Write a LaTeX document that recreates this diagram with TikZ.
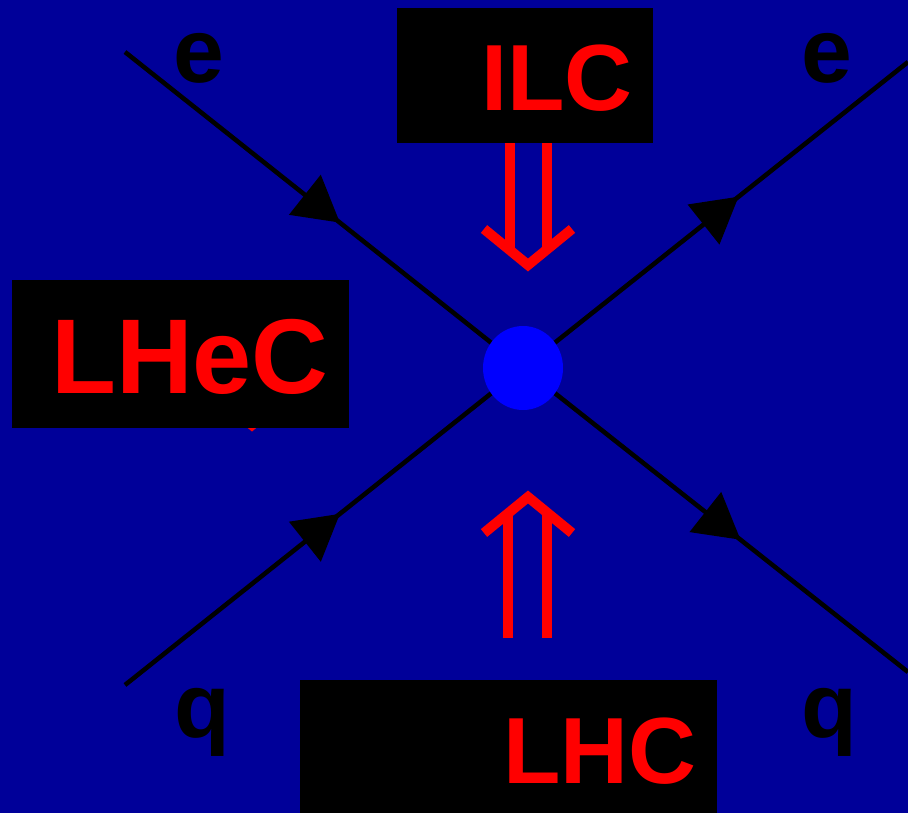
\documentclass[tikz,border=0pt]{standalone}
\usepackage{fontspec}
\setmainfont{Liberation Sans}
\usetikzlibrary{arrows.meta, decorations.markings, shapes.geometric}
\definecolor{navy}{RGB}{0,0,153}
\tikzstyle{box} = [
    rectangle,
    fill=black,
    inner sep=0pt
]
\tikzstyle{collider} = [
    text=red,
    font=\bfseries\fontsize{53.5}{58}\selectfont,
    inner sep=0pt
]
\tikzstyle{particle} = [
    text=black,
    font=\bfseries\fontsize{52}{56}\selectfont,
    inner sep=0pt
]
\tikzstyle{beam} = [draw=red, line width=5.7pt]
\tikzstyle{blob} = [ellipse, fill=blue, minimum width=1.6cm, minimum height=1.68cm, inner sep=0pt]
\tikzset{fermion/.style={
    line width=2.6pt,
    decoration={markings, mark=at position #1 with {\arrow{Triangle[length=25.5pt,width=28.5pt]}}},
    postaction={decorate}
}}

\begin{document}
\begin{tikzpicture}[x=0.02cm, y=-0.02cm]

\path[use as bounding box, clip] (0,0) rectangle (908,813);
\fill[navy] (0,0) rectangle (908,813);

% vertex and outer legs
\coordinate (vtx) at (523,368);
\coordinate (ein) at (125,52);
\coordinate (eout) at (908,62);
\coordinate (qin) at (125,685);
\coordinate (qout) at (908,672);

\draw [fermion=0.54] (ein) -- (vtx);
\draw [fermion=0.56] (vtx) -- (eout);
\draw [fermion=0.54] (qin) -- (vtx);
\draw [fermion=0.565] (vtx) -- (qout);

\node (vertex) [blob] at (vtx) {};

% beams
\draw [beam] (510,143) -- (510,250);
\draw [beam] (547,143) -- (547,250);
\draw [beam, miter limit=20] (484,229) -- (528,265) -- (572,229);

\draw [beam] (508,638) -- (508,513);
\draw [beam] (547,638) -- (547,513);
\draw [beam, miter limit=20] (484,533) -- (528,497) -- (572,533);

\draw [beam, miter limit=20] (216,395) -- (252,425) -- (288,395);

% boxes
\node (ilcbox) [box, minimum width=5.12cm, minimum height=2.7cm] at (525,75.5) {};
\node (lhecbox) [box, minimum width=6.74cm, minimum height=2.96cm] at (180.5,354) {};
\node (lhcbox) [box, minimum width=8.34cm, minimum height=2.7cm] at (508.5,747.5) {};

\node (ilc) [collider, anchor=base east] at (633,111) {ILC};
\node (lhec) [collider, anchor=base east, font=\bfseries\fontsize{60.5}{65}\selectfont] at (329,394) {LHeC};
\node (lhc) [collider, anchor=base east] at (697,783) {LHC};

% particles
\node (ein label) [particle, anchor=base] at (199,83) {e};
\node (eout label) [particle, anchor=base] at (827,83) {e};
\node (qin label) [particle, anchor=base] at (202,737) {q};
\node (qout label) [particle, anchor=base] at (829,737) {q};

\end{tikzpicture}
\end{document}
